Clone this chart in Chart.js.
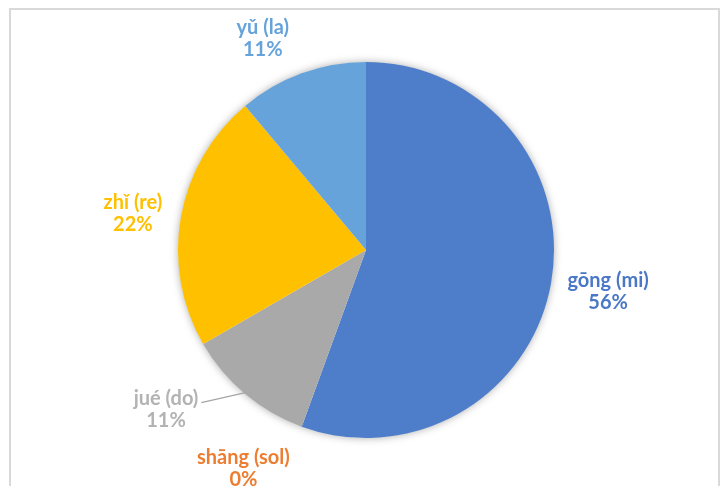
<!DOCTYPE html>
<html>
<head>
<meta charset="utf-8">
<script src="https://cdn.jsdelivr.net/npm/chart.js@4"></script>
<style>
  html, body { margin: 0; padding: 0; background: #fff; }
  #wrap { position: absolute; left: 0; top: 0; width: 722px; height: 486px; }
  #frame { position: absolute; left: 9px; top: 8px; width: 707px; height: 500px;
           border: 2px solid #d9d9d9; pointer-events: none; }
</style>
</head>
<body>
<div id="wrap"><canvas id="myChart"></canvas></div>
<div id="frame"></div>
<script>
const names = ['gōng (mi)', 'shāng (sol)', 'jué (do)', 'zhǐ (re)', 'yǔ (la)'];
const counts = [5, 0, 1, 2, 1];
const sliceColors = ['#4e7dc9', '#ed7d31', '#a9a9a9', '#ffc000', '#65a3da'];
const textColors = ['#4a78c6', '#ed7d31', '#b3b3b3', '#ffc000', '#65a3da'];

// Excel moved the crowded labels by hand, so nudge them the same way
const nudge = [[0, -1], [-41, -6], [-46, -24], [-2, 4], [-24, 6]];
const leader = [false, false, true, false, false];

const total = counts.reduce((a, b) => a + b, 0);

const pieShadow = {
  id: 'pieShadow',
  beforeDatasetsDraw(chart) {
    const arc = chart.getDatasetMeta(0).data[0];
    if (!arc) return;
    const ctx = chart.ctx;
    ctx.save();
    ctx.shadowColor = 'rgba(0,0,0,0.35)';
    ctx.shadowBlur = 9;
    ctx.fillStyle = '#fff';
    ctx.beginPath();
    ctx.arc(arc.x, arc.y, arc.outerRadius - 0.5, 0, Math.PI * 2);
    ctx.fill();
    ctx.restore();
  }
};

const sliceLabels = {
  id: 'sliceLabels',
  afterDatasetsDraw(chart) {
    const ctx = chart.ctx;
    const meta = chart.getDatasetMeta(0);
    ctx.save();
    ctx.font = 'bold 20px Lato';
    ctx.textAlign = 'center';
    ctx.textBaseline = 'middle';
    meta.data.forEach((arc, i) => {
      const mid = (arc.startAngle + arc.endAngle) / 2;
      const dx = Math.cos(mid), dy = Math.sin(mid);
      const pct = Math.round(counts[i] / total * 100) + '%';
      const w = Math.max(ctx.measureText(names[i]).width, ctx.measureText(pct).width);
      const h = 44;
      const r = arc.outerRadius + 14;
      const shift = (w / 2) * Math.abs(dx) + (h / 2) * Math.abs(dy);
      const cx = arc.x + dx * (r + shift) + nudge[i][0];
      const cy = arc.y + dy * (r + shift) + nudge[i][1];
      ctx.fillStyle = textColors[i];
      ctx.fillText(names[i], cx, cy - 11);
      ctx.fillText(pct, cx, cy + 11);
      if (leader[i]) {
        const w1 = ctx.measureText(names[i]).width;
        ctx.strokeStyle = '#a5a5a5';
        ctx.lineWidth = 1.3;
        ctx.beginPath();
        ctx.moveTo(cx + w1 / 2 + 3, cy - 7);
        ctx.lineTo(arc.x + dx * (arc.outerRadius - 2), arc.y + dy * (arc.outerRadius - 2));
        ctx.stroke();
      }
    });
    ctx.restore();
  }
};

const config = {
  type: 'pie',
  data: {
    labels: names,
    datasets: [{
      data: counts,
      backgroundColor: sliceColors,
      borderWidth: 0
    }]
  },
  options: {
    responsive: true,
    maintainAspectRatio: false,
    animation: false,
    layout: { padding: { left: 178, right: 168, top: 62, bottom: 48 } },
    plugins: {
      legend: { display: false },
      tooltip: { enabled: false }
    }
  },
  plugins: [pieShadow, sliceLabels]
};

const myChart = new Chart(document.getElementById('myChart'), config);
</script>
</body>
</html>
